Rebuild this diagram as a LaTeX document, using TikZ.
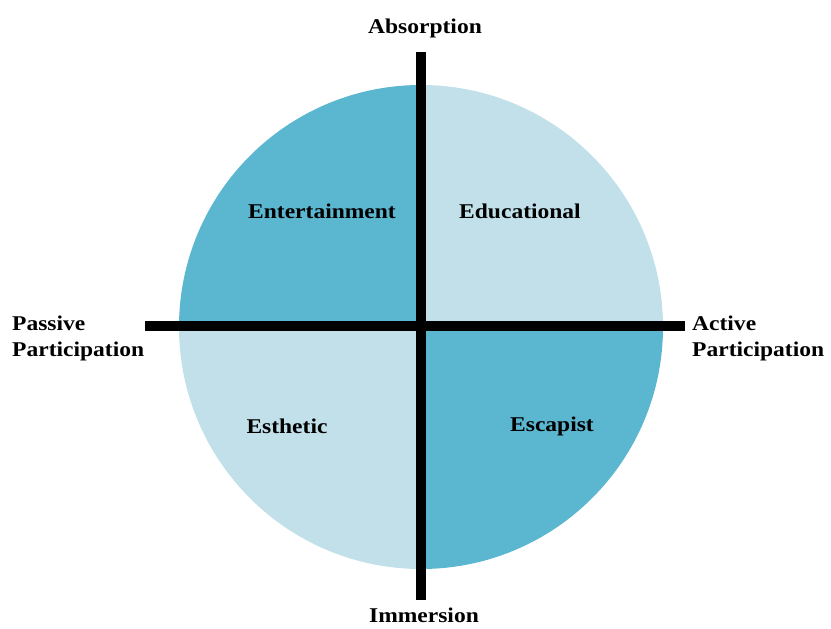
\documentclass[tikz,border=0pt]{standalone}
\usepackage{fontspec}
\setmainfont{Liberation Serif}[FakeStretch=1.12]
\usetikzlibrary{positioning}
\definecolor{qdark}{HTML}{5BB6CF}
\definecolor{qlight}{HTML}{C1E0EA}

\begin{document}
\begin{tikzpicture}[x=1pt, y=-1pt,
        lbl/.style={font=\fontsize{21}{26}\selectfont\bfseries, inner sep=0pt, align=left},
        axis/.style={line width=10pt, black}]
  \useasboundingbox (0,0) rectangle (831,629);
  \coordinate (o) at (421,327);
  % four quadrants of the disc
  \fill[qdark]  (o) -- ++(-242,0) arc[start angle=180, end angle=270, radius=242] -- cycle;
  \fill[qlight] (o) -- ++(0,-242) arc[start angle=270, end angle=360, radius=242] -- cycle;
  \fill[qdark]  (o) -- ++(242,0) arc[start angle=0, end angle=90, radius=242] -- cycle;
  \fill[qlight] (o) -- ++(0,242) arc[start angle=90, end angle=180, radius=242] -- cycle;
  % axes
  \coordinate (top) at (421,52);  \coordinate (bot) at (421,600);
  \coordinate (lft) at (145,326); \coordinate (rgt) at (685,326);
  \draw[axis] (top) -- (bot);
  \draw[axis] (lft) -- (rgt);
  % axis labels
  \node[lbl] (abs) at (425,28) {Absorption};
  \node[lbl] (imm) at (424,615) {Immersion};
  \node[lbl, anchor=west] (pas) at (12,338) {Passive\\Participation};
  \node[lbl, anchor=west] (act) at (692,338) {Active\\Participation};
  % quadrant labels
  \node[lbl] (ent) at (322,211) {Entertainment};
  \node[lbl] (edu) at (520,211) {Educational};
  \node[lbl] (est) at (287,426) {Esthetic};
  \node[lbl] (esc) at (552,426) {Escapist};
\end{tikzpicture}
\end{document}
